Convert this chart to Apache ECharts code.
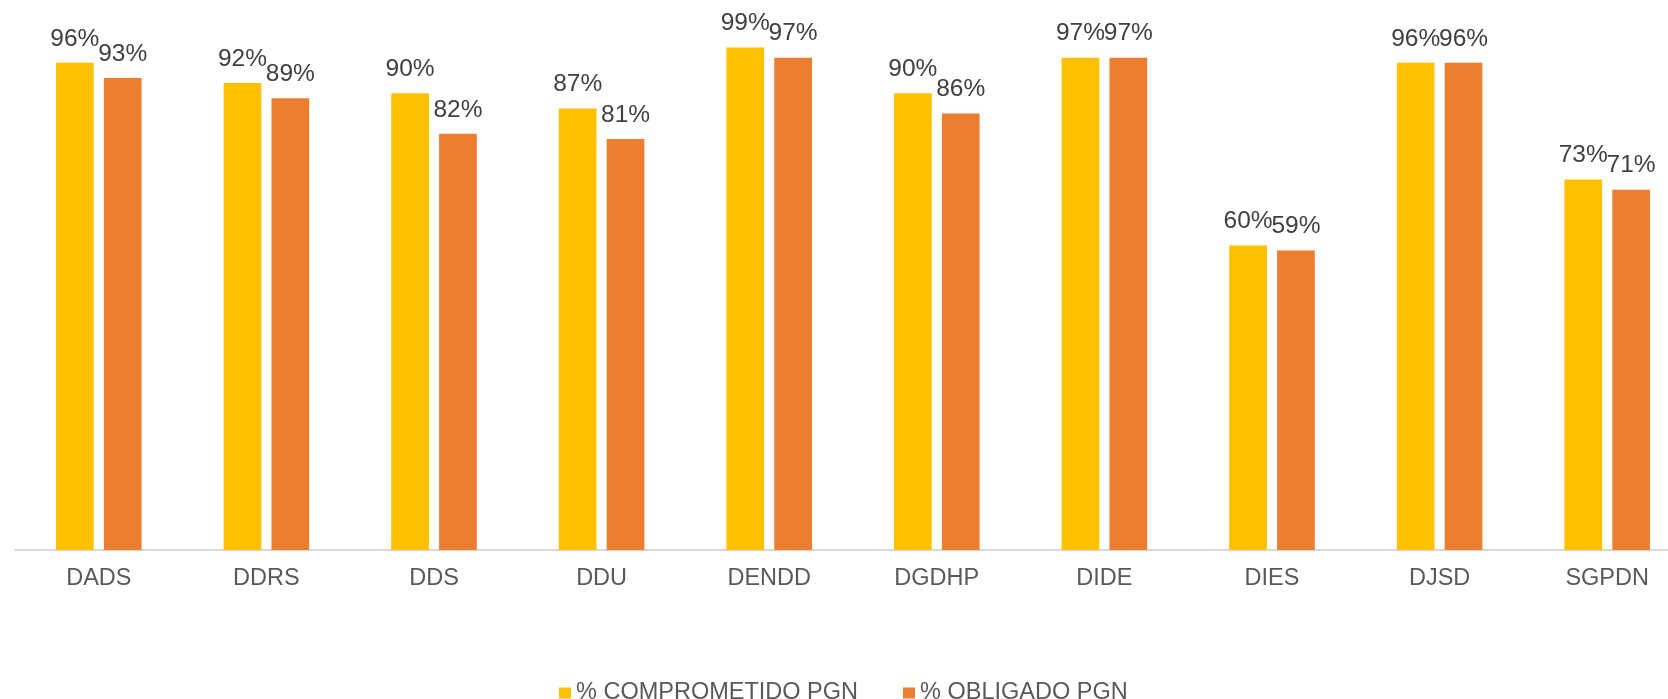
<!DOCTYPE html>
<html>
<head>
<meta charset="utf-8">
<script src="https://cdn.jsdelivr.net/npm/echarts@6/dist/echarts.min.js"></script>
<style>
  html, body { margin: 0; padding: 0; background: #ffffff; }
  #chart { width: 1668px; height: 699px; }
</style>
</head>
<body>
<div id="chart"></div>
<script>
// Budget execution by office (percent)
const categories = ['DADS', 'DDRS', 'DDS', 'DDU', 'DENDD', 'DGDHP', 'DIDE', 'DIES', 'DJSD', 'SGPDN'];
const seriesNames = ['% COMPROMETIDO PGN', '% OBLIGADO PGN'];
const comprometido = [96, 92, 90, 87, 99, 90, 97, 60, 96, 73];
const obligado = [93, 89, 82, 81, 97, 86, 97, 59, 96, 71];

const FONT = '"Liberation Sans", Arial, sans-serif';

const chart = echarts.init(document.getElementById('chart'), null, { renderer: 'canvas' });

const labelStyle = {
  show: true,
  position: 'top',
  distance: 11.5,
  color: '#404040',
  fontFamily: FONT,
  fontSize: 24.5,
  formatter: p => p.value + '%'
};

chart.setOption({
  backgroundColor: '#ffffff',
  animation: false,
  grid: {
    left: 15,
    top: 42.5,
    width: 1676,
    height: 507.5,
    containLabel: false,
    outerBoundsMode: 'none'
  },
  legend: {
    data: seriesNames,
    left: 554,
    top: 676,
    itemWidth: 12,
    itemHeight: 11,
    itemGap: 45,
    icon: 'rect',
    textStyle: {
      color: '#595959',
      fontFamily: FONT,
      fontSize: 23.5,
      padding: [0, 0, 0, 0]
    }
  },
  xAxis: {
    type: 'category',
    data: categories,
    axisLine: { show: true, lineStyle: { color: '#d9d9d9', width: 2 } },
    axisTick: { show: false },
    axisLabel: {
      margin: 17,
      color: '#595959',
      fontFamily: FONT,
      fontSize: 23.5,
      interval: 0
    }
  },
  yAxis: {
    type: 'value',
    min: 0,
    max: 100,
    show: false,
    splitLine: { show: false }
  },
  series: [
    {
      name: seriesNames[0],
      type: 'bar',
      data: comprometido,
      barWidth: 37.7,
      barGap: '27%',
      itemStyle: { color: '#FFC000' },
      label: labelStyle
    },
    {
      name: seriesNames[1],
      type: 'bar',
      data: obligado,
      barWidth: 37.7,
      barGap: '27%',
      itemStyle: { color: '#ED7D31' },
      label: labelStyle
    }
  ]
});
</script>
</body>
</html>
